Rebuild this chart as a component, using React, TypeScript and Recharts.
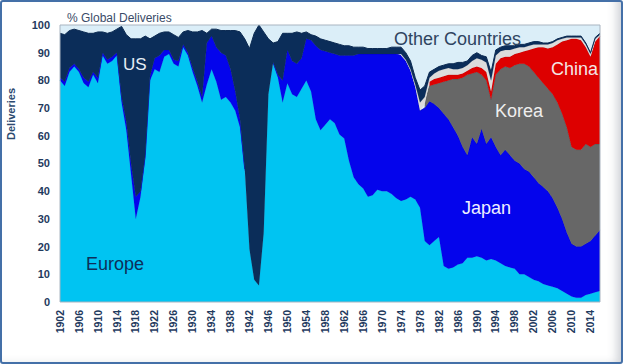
import { AreaChart, Area, XAxis, YAxis, CartesianGrid, ReferenceArea } from "recharts"

const FONT = '"Liberation Sans", Arial, sans-serif'
const TICK = "#1f3a5e"

const years = Array.from({ length: 115 }, (_, i) => 1902 + i)
const yTicks = [0, 10, 20, 30, 40, 50, 60, 70, 80, 90, 100]

// % of global deliveries
const europe = [
    80, 78, 83, 85, 83, 79, 77.5, 82, 79, 89,
    86, 87, 89, 72, 62, 46, 30, 38, 52, 80,
    84, 83, 88.5, 89.5, 86, 85, 92, 89, 83, 78,
    72, 78.5, 84, 79.5, 73, 74, 72, 69, 63, 47,
    19, 8, 6, 25, 75, 86, 81, 72, 79, 75,
    74, 77, 80, 76, 66, 62, 64, 66, 64.5, 60.5,
    59, 51, 45, 42.5, 41, 38, 38.5, 40.5, 40, 40,
    39, 37.5, 36.5, 37, 38, 37, 34, 22, 20.5, 22,
    23.5, 13, 12, 12.5, 13.5, 14, 16, 16, 16.5, 16,
    15, 15.5, 15, 14, 13, 12.5, 12, 10, 10, 9,
    8, 7.5, 6.5, 6, 5.5, 5, 4, 3, 2, 1.5,
    1.5, 2.5, 3, 3.5, 4,
]

const japan = [
    1, 1.5, 1.5, 1, 1, 2, 2, 1, 2, 1,
    1.5, 1.5, 1, 2, 3, 4, 8, 2, 1, 1.5,
    4, 6, 2.5, 1.5, 1.5, 2, 1, 1, 1.5, 1.5,
    2, 15, 12, 12.5, 17, 15, 12, 7, 3, 1,
    null, null, null, null, null, 0.5, 1, 8, 12, 12,
    12, 11, 15, 18.5, 26.5, 29, 26.5, 24, 25, 28.5,
    30, 38, 44, 47, 48.5, 51.5, 51, 49, 49.5, 49.5,
    50.5, 52, 52.5, 50, 45.5, 40.5, 35, 48, 52, 49.5,
    46.5, 55, 54, 50.5, 46.5, 42, 37, 43.5, 40.5, 46.5,
    42, 44, 41, 39, 42, 40.5, 39, 40, 38, 38,
    37, 35.5, 35, 34, 32, 29, 26, 22, 19, 18.5,
    18.5, 18.5, 19, 20.5, 22,
]

// from 1979
const korea = [
    1.5, 5.5, 7, 9, 11.5, 14, 17.5, 20.5, 25, 29,
    23, 26, 19.5, 23, 13.5, 26, 31, 30, 31.5, 34.5,
    36, 38, 38, 38, 38, 37.5, 37, 37.5, 38, 38,
    38, 35, 35, 35, 36, 34, 33, 31,
]

// from 1980
const china = [
    1.5, 2, 2, 2, 2, 1.5, 1.5, 1.5, 1.5, 2,
    2, 2.5, 3, 3, 4, 4, 3.5, 4, 4, 4,
    4.5, 6, 8.5, 11, 13, 14.5, 17, 21, 26, 31.5,
    39, 40, 39.5, 35, 32.5, 37, 39,
]

// thin light grey band, from 1974
const minor = [
    0.5, 0.5, 0.5, 1, 3, 2.5,
    1.5, 2, 2.5, 2.5, 2.5, 2, 2, 2, 2, 2.5,
    3, 3, 3.5, 4, 3, 2.5, 2.5, 2.5, 2, 2,
    1.5, 1.5, 1.5, 1, 1, 1.5, 1.5, 1.5, 1, 1,
    0.5, 0.5, 1, 1, 1, 1, 0.5,
]

const us = [
    16, 17, 13.5, 12.5, 14, 16.5, 17.5, 14, 16.5, 7.5,
    9.5, 9, 8.5, 25.5, 31.5, 45, 57, 55, 43, 13.5,
    8, 8, 6.5, 6.5, 9, 8.5, 4.5, 8, 13, 18,
    24, 3.5, 2.5, 6.5, 8, 9, 14, 22, 31.5, 47,
    72.5, 89, 94, 72.5, 20, 7, 12, 17, 6, 10,
    11.5, 9, 2.5, 2, 3.5, 4, 4, 4, 4, 4,
    3.5, 3.5, 3, 2.5, 2.5, 2, 2, 2, 2, 2,
    2.5, 2.5, 2.5, 2.5, 3, 2.5, 4.5, 4, 2, 1.5,
    1.5, 1.5, 1.5, 2, 2.5, 2, 1.5, 2, 2, 1.5,
    2, 3, 2, 1.5, 1.5, 1.5, 1, 1, 1, 1,
    1, 1, 0.5, 0.5, 0.5, 0.5, 0.5, 0.5, 0.5, 0.5,
    0.5, 0.5, 0.5, 0.5, 0.5,
]

const rows = years.map((year, i) => ({
    year,
    europe: europe[i],
    japan: japan[i],
    korea: year >= 1979 ? korea[year - 1979] : null,
    china: year >= 1980 ? china[year - 1980] : null,
    minor: year >= 1974 ? minor[year - 1974] : null,
    us: us[i],
}))

function YearTick({ x, y, payload }: any) {
    return (
        <text
            x={x}
            y={y}
            transform={`rotate(-90, ${x}, ${y})`}
            textAnchor="end"
            dy="0.35em"
            fontSize={10.5}
            fontWeight="bold"
            fill={TICK}
            fontFamily={FONT}
        >
            {payload.value}
        </text>
    )
}

export default function App() {
    return (
        <div style={{ position: "absolute", left: 0, top: 0, width: 625, height: 364, background: "#fff" }}>
            <div
                style={{
                    position: "absolute", left: 0, top: 0, width: 623, height: 364,
                    boxSizing: "border-box", border: "2px solid #4470a8", borderRadius: 3,
                    boxShadow: "inset -10px -3px 10px -6px rgba(60,70,90,0.25)",
                }}
            />
            <AreaChart
                width={625}
                height={364}
                data={rows}
                margin={{ top: 25, right: 25, bottom: 0, left: 0 }}
                style={{ position: "absolute", left: 0, top: 0 }}
            >
                <CartesianGrid horizontal={false} vertical={false} fill="#dbeef8" />
                <XAxis
                    dataKey="year"
                    interval={3}
                    tickLine={false}
                    axisLine={false}
                    height={62}
                    tickSize={6}
                    tickMargin={2}
                    tick={<YearTick />}
                />
                <YAxis
                    domain={[0, 100]}
                    ticks={yTicks}
                    width={60}
                    tickLine={false}
                    axisLine={false}
                    tickSize={6}
                    tickMargin={4}
                    tick={{ fill: TICK, fontSize: 11, fontWeight: "bold", fontFamily: FONT }}
                />
                <Area type="linear" dataKey="europe" stackId="a" fill="#00c4f2" fillOpacity={1} stroke="#00b4e4" strokeWidth={0.8} isAnimationActive={false} />
                <Area type="linear" dataKey="japan" stackId="a" fill="#0404ec" fillOpacity={1} stroke="#0000c8" strokeWidth={0.8} isAnimationActive={false} />
                <Area type="linear" dataKey="korea" stackId="a" fill="#676767" fillOpacity={1} stroke="#555555" strokeWidth={0.8} isAnimationActive={false} />
                <Area type="linear" dataKey="china" stackId="a" fill="#dd0000" fillOpacity={1} stroke="#c00000" strokeWidth={0.8} isAnimationActive={false} />
                <Area type="linear" dataKey="minor" stackId="a" fill="#dcdcdc" fillOpacity={1} stroke="#c4c4c4" strokeWidth={0.8} isAnimationActive={false} />
                <Area type="linear" dataKey="us" stackId="a" fill="#0b2d59" fillOpacity={1} stroke="#0b2a52" strokeWidth={1} isAnimationActive={false} />
                <ReferenceArea x1={1902} x2={2016} y1={0} y2={100} fill="none" stroke="#a9b4c0" strokeWidth={1} ifOverflow="visible" />
            </AreaChart>
            <svg width={625} height={364} style={{ position: "absolute", left: 0, top: 0, pointerEvents: "none" }} fontFamily={FONT}>
                <text x={67} y={21.5} fontSize={12} fill="#3a4b68">% Global Deliveries</text>
                <text x={15} y={114} fontSize={11} fontWeight="bold" fill="#2c4a70" textAnchor="middle" transform="rotate(-90, 15, 114)">Deliveries</text>
                <text x={123} y={70} fontSize={17} fill="#e6edf5">US</text>
                <text x={86} y={270} fontSize={18} fill="#0d2f5a">Europe</text>
                <text x={394} y={45} fontSize={18} fill="#2f4460">Other Countries</text>
                <text x={551} y={74.5} fontSize={18} fill="#f4e6e6">China</text>
                <text x={495} y={117} fontSize={18} fill="#eeeeee">Korea</text>
                <text x={462} y={213.5} fontSize={18} fill="#eef0ff">Japan</text>
            </svg>
        </div>
    )
}
